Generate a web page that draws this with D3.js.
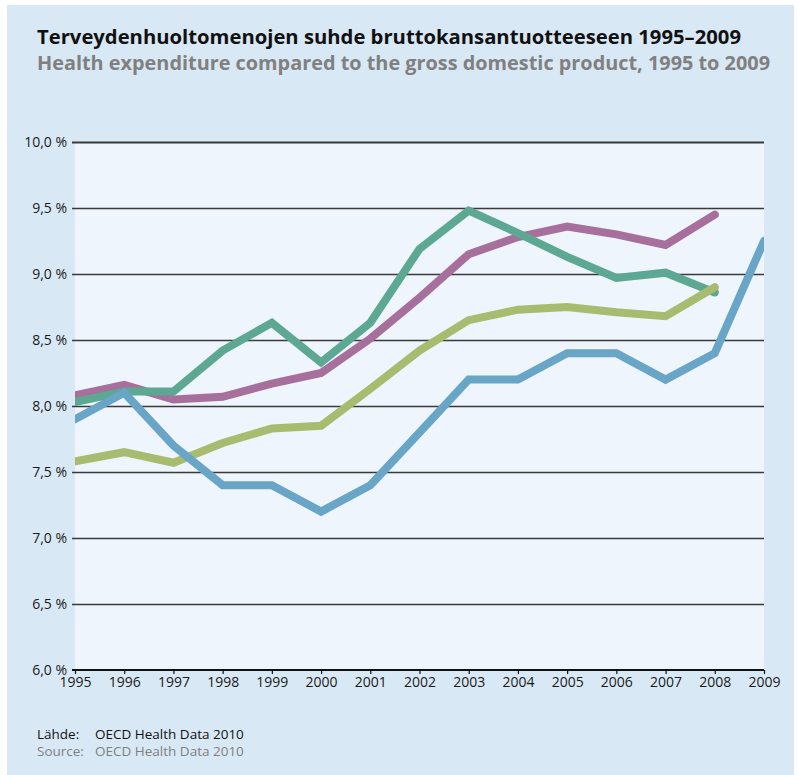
<!DOCTYPE html>
<html>
<head>
<meta charset="utf-8">
<script src="https://cdn.jsdelivr.net/npm/d3@7"></script>
<style>
  html, body { margin: 0; padding: 0; background: #ffffff; }
  svg { display: block; }
</style>
</head>
<body>
<svg id="chart" width="797" height="775"></svg>
<script>
// Years on the x axis
const years = [1995, 1996, 1997, 1998, 1999, 2000, 2001, 2002, 2003, 2004, 2005, 2006, 2007, 2008, 2009];

// Health expenditure as a share of GDP (%)
const seriesBlue   = [7.9, 8.1, 7.7, 7.4, 7.4, 7.2, 7.4, 7.8, 8.2, 8.2, 8.4, 8.4, 8.2, 8.4, 9.25];
const seriesTeal   = [8.03, 8.11, 8.11, 8.42, 8.63, 8.33, 8.63, 9.19, 9.48, 9.31, 9.13, 8.97, 9.01, 8.86];
const seriesPurple = [8.08, 8.16, 8.05, 8.07, 8.17, 8.25, 8.51, 8.82, 9.15, 9.28, 9.36, 9.30, 9.22, 9.45];
const seriesLime   = [7.58, 7.65, 7.57, 7.72, 7.83, 7.85, 8.13, 8.42, 8.65, 8.73, 8.75, 8.71, 8.68, 8.90];

// Y axis ticks
const yTicks = [6.0, 6.5, 7.0, 7.5, 8.0, 8.5, 9.0, 9.5, 10.0];

const titleFi = "Terveydenhuoltomenojen suhde bruttokansantuotteeseen 1995\u20132009";
const titleEn = "Health expenditure compared to the gross domestic product, 1995 to 2009";

const svg = d3.select("#chart");

// background panel
svg.append("rect")
  .attr("x", 7).attr("y", 5).attr("width", 787).attr("height", 770)
  .attr("fill", "#d9e8f5");

const plot = { left: 75, right: 764, top: 142, bottom: 670 };

const x = d3.scaleLinear().domain([1995, 2009]).range([plot.left, plot.right]);
const y = d3.scaleLinear().domain([6, 10]).range([plot.bottom, plot.top]);

// plot area
svg.append("rect")
  .attr("x", plot.left).attr("y", plot.top)
  .attr("width", plot.right - plot.left).attr("height", plot.bottom - plot.top)
  .attr("fill", "#eef5fd");

// titles
svg.append("text")
  .attr("x", 37).attr("y", 44)
  .attr("font-family", "'Open Sans', sans-serif")
  .attr("font-weight", 700)
  .attr("font-size", 19)
  .attr("fill", "#111")
  .attr("textLength", 704).attr("lengthAdjust", "spacingAndGlyphs")
  .text(titleFi);

svg.append("text")
  .attr("x", 37).attr("y", 70)
  .attr("font-family", "'Open Sans', sans-serif")
  .attr("font-weight", 700)
  .attr("font-size", 19)
  .attr("fill", "#808080")
  .attr("textLength", 733).attr("lengthAdjust", "spacingAndGlyphs")
  .text(titleEn);

// horizontal gridlines with y labels
const yAxis = d3.axisLeft(y)
  .tickValues(yTicks)
  .tickSize(-(plot.right - plot.left) - 3)
  .tickPadding(6)
  .tickFormat(d => d3.format(".1f")(d).replace(".", ",") + " %");

const gy = svg.append("g")
  .attr("transform", `translate(${plot.left - 3},0)`)
  .call(yAxis);
gy.select(".domain").remove();
gy.selectAll(".tick line")
  .attr("stroke", "#3a3a3a")
  .attr("stroke-width", d => d === 10 ? 2 : 1.5);
gy.selectAll(".tick line").filter(d => d === 6).remove();
gy.selectAll(".tick text")
  .attr("font-family", "'Open Sans', sans-serif")
  .attr("font-size", 14)
  .attr("fill", "#1a1a1a")
  .attr("x", -5)
  .attr("dy", "0.3em");

// x axis
const xAxis = d3.axisBottom(x)
  .tickValues(years)
  .tickSize(4)
  .tickPadding(3)
  .tickFormat(d3.format("d"));

const gx = svg.append("g")
  .attr("transform", `translate(0,${plot.bottom})`)
  .call(xAxis);
gx.select(".domain")
  .attr("d", `M${plot.left - 3},0H${plot.right}`)
  .attr("stroke", "#111").attr("stroke-width", 2);
gx.selectAll(".tick line").attr("stroke", "#111").attr("stroke-width", 1.2);
gx.selectAll(".tick text")
  .attr("font-family", "'Open Sans', sans-serif")
  .attr("font-size", 14)
  .attr("fill", "#1a1a1a");

// clip lines at the plot's left and right edges
svg.append("clipPath").attr("id", "plotClip")
  .append("rect")
  .attr("x", plot.left).attr("y", 0)
  .attr("width", plot.right - plot.left).attr("height", 775);

const line = d3.line()
  .x((d, i) => x(years[i]))
  .y(d => y(d));

const series = [
  { values: seriesPurple, color: "#a66f9c" },
  { values: seriesTeal,   color: "#5ca892" },
  { values: seriesLime,   color: "#a7bc6f" },
  { values: seriesBlue,   color: "#68a5c6" }
];

svg.append("g")
  .attr("clip-path", "url(#plotClip)")
  .selectAll("path")
  .data(series)
  .join("path")
  .attr("d", d => line(d.values))
  .attr("fill", "none")
  .attr("stroke", d => d.color)
  .attr("stroke-width", 8)
  .attr("stroke-linejoin", "miter")
  .attr("stroke-linecap", "round");

// source lines
const src = svg.append("g")
  .attr("font-family", "'Open Sans', sans-serif")
  .attr("font-size", 13.5);
const srcRows = [
  { label: "Lähde:", text: "OECD Health Data 2010", color: "#111", y: 739 },
  { label: "Source:", text: "OECD Health Data 2010", color: "#808080", y: 756 }
];
srcRows.forEach(r => {
  const t = src.append("text").attr("y", r.y).attr("fill", r.color);
  t.append("tspan").attr("x", 37).text(r.label);
  t.append("tspan").attr("x", 95).text(r.text);
});
</script>
</body>
</html>
